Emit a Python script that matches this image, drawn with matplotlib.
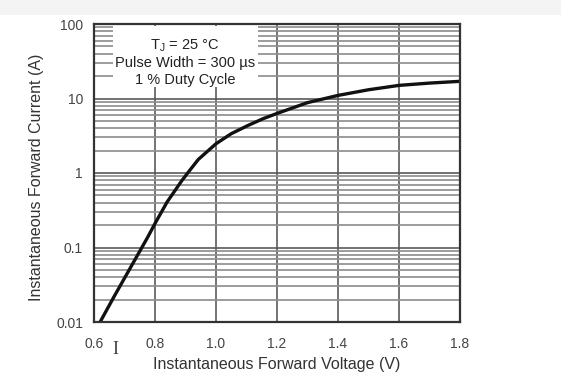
import matplotlib
matplotlib.use("Agg")
import matplotlib.pyplot as plt
import matplotlib.patches as patches
from matplotlib.ticker import FixedLocator, NullFormatter

plt.rcParams['font.family'] = ['Liberation Sans', 'DejaVu Sans']

# forward voltage (V) vs forward current (A)
voltage = [0.62, 0.666, 0.709, 0.742, 0.775, 0.80, 0.84, 0.888, 0.915, 0.942, 1.00,
           1.05, 1.106, 1.155, 1.20, 1.30, 1.40, 1.50, 1.60, 1.70, 1.80]
current = [0.01, 0.022, 0.045, 0.078, 0.135, 0.21, 0.41, 0.79, 1.1, 1.52, 2.47,
           3.37, 4.37, 5.37, 6.3, 8.8, 11.0, 13.1, 15.0, 16.1, 17.0]

x_ticks = [0.6, 0.8, 1.0, 1.2, 1.4, 1.6, 1.8]
x_tick_labels = ['0.6', '0.8', '1.0', '1.2', '1.4', '1.6', '1.8']
y_ticks = [0.01, 0.1, 1, 10, 100]
y_tick_labels = ['0.01', '0.1', '1', '10', '100']
y_minor = [m * d for d in [0.01, 0.1, 1, 10] for m in range(2, 10)]

note_lines = [r'T$_\mathregular{J}$ = 25 °C', 'Pulse Width = 300 µs', '1 % Duty Cycle']

fig = plt.figure(figsize=(5.61, 3.90), dpi=100)
ax = fig.add_axes([94 / 561, 68 / 390, 366 / 561, 298 / 390])

# screenshot strip at the top
fig.add_artist(patches.Rectangle((0, 1 - 15 / 390), 1, 15 / 390,
                                 transform=fig.transFigure,
                                 facecolor='#f4f4f4', edgecolor='none', zorder=0))

ax.set_yscale('log')
ax.set_xlim(0.6, 1.8)
ax.set_ylim(0.01, 100)

ax.set_xticks(x_ticks)
ax.set_xticklabels(x_tick_labels)
ax.set_yticks(y_ticks)
ax.set_yticklabels(y_tick_labels)
ax.yaxis.set_minor_locator(FixedLocator(y_minor))
ax.yaxis.set_minor_formatter(NullFormatter())

ax.tick_params(axis='both', which='both', length=0, labelsize=10, labelcolor='#444444')
ax.tick_params(axis='x', pad=11)
ax.tick_params(axis='y', pad=8)

ax.set_axisbelow(True)
ax.grid(True, which='major', axis='both', color='#5a5a5a', linewidth=1.2)
ax.grid(True, which='minor', axis='y', color='#909090', linewidth=1.25)

for s in ax.spines.values():
    s.set_color('#333333')
    s.set_linewidth(1.6)

# white box behind the test conditions
ax.add_patch(patches.Rectangle((0.052, 0.789), 0.396, 0.205, transform=ax.transAxes,
                               facecolor='white', edgecolor='none', zorder=1))
for ty, line in zip([0.928, 0.868, 0.812], note_lines):
    ax.text(0.249, ty, line, transform=ax.transAxes, ha='center', va='center',
            fontsize=10.5, color='#222222', zorder=3)

ax.plot(voltage, current, color='#111111', linewidth=2.4, zorder=2,
        solid_capstyle='round', solid_joinstyle='round')

ax.set_xlabel('Instantaneous Forward Voltage (V)', fontsize=11.5, color='#333333')
ax.set_ylabel('Instantaneous Forward Current (A)', fontsize=11.5, color='#333333')
ax.xaxis.set_label_coords(0.5, -0.144)
ax.xaxis.label.set_va('center')
ax.yaxis.set_label_coords(-0.156, 0.485)
ax.yaxis.label.set_va('center')

# text cursor in the screenshot
fig.text(115 / 561, 1 - 350 / 390, 'I', family='Liberation Serif', fontsize=13,
         color='#444444', ha='center', va='center')

fig.savefig('out.png', dpi=100, facecolor='white')
